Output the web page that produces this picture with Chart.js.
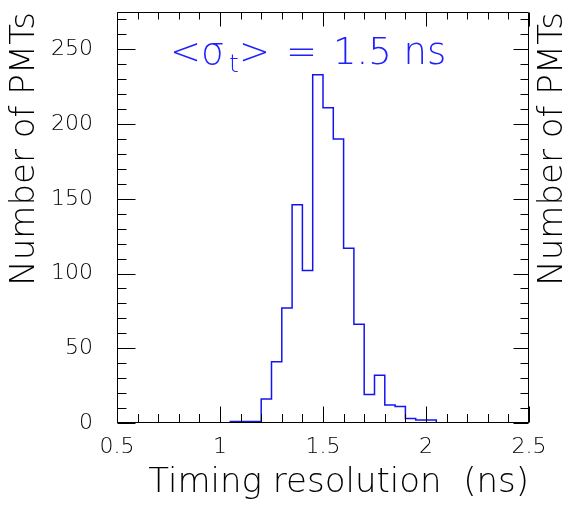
<!DOCTYPE html>
<html><head><meta charset="utf-8">
<script src="https://cdn.jsdelivr.net/npm/chart.js@4.4.1/dist/chart.umd.min.js"></script>
<style>html,body{margin:0;padding:0;background:#fff;}</style>
</head><body>
<canvas id="c" width="568" height="505"></canvas>
<script>
// ---- data ----
const binLeftEdges = [0.50,0.55,0.60,0.65,0.70,0.75,0.80,0.85,0.90,0.95,
                      1.00,1.05,1.10,1.15,1.20,1.25,1.30,1.35,1.40,1.45,
                      1.50,1.55,1.60,1.65,1.70,1.75,1.80,1.85,1.90,1.95,
                      2.00,2.05,2.10,2.15,2.20,2.25,2.30,2.35,2.40,2.45];
const pmtCounts    = [0,0,0,0,0,0,0,0,0,0,
                      0,1,1,1,16,41,77,146,102,233,
                      211,190,117,66,19,32,12,11,3,2,
                      2,0,0,0,0,0,0,0,0,0];
const histEnd = 2.5;
const xTickValues = [0.5, 1, 1.5, 2, 2.5];
const xTickLabels = ['0.5', '1', '1.5', '2', '2.5'];
const yTickValues = [0, 50, 100, 150, 200, 250];
const yTickLabels = ['0', '50', '100', '150', '200', '250'];
const xTitle = 'Timing resolution  (ns)';
const yTitle = 'Number of PMTs';
const meanPre = '<σ', meanSub = 't', meanPost = '>', meanEq = '=', meanVal = '1.5 ns';

const FONT = 'DejaVu Sans';
const W = 200;
const histPoints = binLeftEdges.map((e, i) => ({x: e, y: pmtCounts[i]}));
histPoints.push({x: histEnd, y: 0});

const framePlugin = {
  id: 'frameTicks',
  afterDraw(chart) {
    const {ctx, chartArea: a, scales: {x, y}} = chart;
    const L = Math.round(a.left) + 0.5, R = Math.round(a.right) - 0.5;
    const T = Math.round(a.top) + 0.5, B = Math.round(a.bottom) - 0.5;
    ctx.save();
    ctx.strokeStyle = '#000';
    ctx.lineWidth = 1;
    ctx.beginPath();
    ctx.rect(L, T, R - L, B - T);
    for (let i = 0; i <= 20; i++) {
      const v = 0.5 + i * 0.1;
      const px = Math.round(x.getPixelForValue(v)) + 0.5;
      const major = i % 5 === 0;
      ctx.moveTo(px, B); ctx.lineTo(px, B - (major ? 16 : 8.5));
      ctx.moveTo(px, T); ctx.lineTo(px, T + (major ? 14 : 7));
    }
    for (let v = 0; v <= 270; v += 10) {
      const py = Math.round(y.getPixelForValue(v)) + 0.5;
      const major = v % 50 === 0;
      ctx.moveTo(L, py); ctx.lineTo(L + (major ? 18 : 9), py);
      ctx.moveTo(R, py); ctx.lineTo(R - (major ? 15 : 8), py);
    }
    ctx.stroke();

    ctx.fillStyle = '#000';
    ctx.font = `${W} 34px "${FONT}"`;
    ctx.textAlign = 'right';
    ctx.textBaseline = 'middle';
    ctx.translate(553, a.top);
    ctx.rotate(-Math.PI / 2);
    ctx.fillText(yTitle, 0, 0);
    ctx.restore();

    ctx.save();
    ctx.fillStyle = '#2020ff';
    ctx.textBaseline = 'alphabetic';
    ctx.textAlign = 'left';
    const draw = (txt, size, glyphLeft, base) => {
      ctx.font = `${W} ${size}px "${FONT}"`;
      const m = ctx.measureText(txt);
      ctx.fillText(txt, glyphLeft + m.actualBoundingBoxLeft, base);
    };
    draw(meanPre, 37, 173, 64);
    draw(meanSub, 25, 230, 72);
    draw(meanPost, 37, 242, 64);
    draw(meanEq, 37, 289, 64);
    draw(meanVal, 37, 337, 64);
    ctx.restore();
  }
};

new Chart(document.getElementById('c'), {
  type: 'line',
  data: {
    datasets: [{
      data: histPoints,
      stepped: 'before',
      borderColor: '#1414f0',
      borderWidth: 1.5,
      pointRadius: 0,
      fill: false,
      tension: 0
    }]
  },
  options: {
    responsive: false,
    animation: false,
    events: [],
    layout: {padding: {top: 12, left: 0, right: 39, bottom: 0}},
    plugins: {legend: {display: false}, tooltip: {enabled: false}},
    scales: {
      x: {
        type: 'linear', min: 0.5, max: 2.5,
        afterBuildTicks: s => { s.ticks = xTickValues.map(v => ({value: v})); },
        afterFit: s => { s.height = 82; s.paddingLeft = 0; s.paddingRight = 0; },
        grid: {display: false, drawTicks: false},
        border: {display: false},
        ticks: {font: {family: FONT, size: 22, weight: W}, color: '#000', padding: 11, maxRotation: 0, autoSkip: false,
                callback: (v, i) => xTickLabels[i]},
        title: {display: true, text: xTitle, align: 'end', color: '#000',
                font: {family: FONT, size: 34, weight: W}, padding: {top: 0, bottom: 1}}
      },
      y: {
        type: 'linear', min: 0, max: 275,
        afterBuildTicks: s => { s.ticks = yTickValues.map(v => ({value: v})); },
        afterFit: s => { s.width = 117; s.paddingTop = 0; s.paddingBottom = 0; },
        grid: {display: false, drawTicks: false},
        border: {display: false},
        ticks: {font: {family: FONT, size: 22, weight: W}, color: '#000', padding: 24,
                callback: (v, i) => yTickLabels[i]},
        title: {display: true, text: yTitle, align: 'end', color: '#000',
                font: {family: FONT, size: 34, weight: W}, padding: {top: 5, bottom: 0}}
      }
    }
  },
  plugins: [framePlugin]
});
</script>
</body></html>
